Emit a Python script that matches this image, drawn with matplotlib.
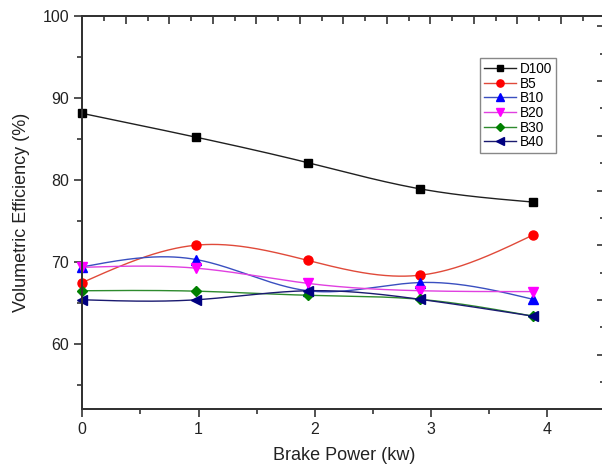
import numpy as np
import matplotlib
matplotlib.use("Agg")
import matplotlib.pyplot as plt
from matplotlib.lines import Line2D
from matplotlib.ticker import MultipleLocator

plt.rcParams['font.family'] = ['Liberation Sans', 'DejaVu Sans']

# ---- data ----
brake_power = [0, 0.98, 1.94, 2.91, 3.88]
series_names = ["D100", "B5", "B10", "B20", "B30", "B40"]
d100 = [88.1, 85.2, 82.1, 78.9, 77.3]
b5 = [67.5, 72.05, 70.2, 68.4, 73.3]
b10 = [69.4, 70.3, 66.5, 67.5, 65.45]
b20 = [69.35, 69.25, 67.4, 66.5, 66.4]
b30 = [66.5, 66.45, 65.95, 65.45, 63.4]
b40 = [65.4, 65.4, 66.5, 65.45, 63.4]

colors = ["#000000", "#ff0000", "#0000ff", "#ff00ff", "#008000", "#000080"]
line_colors = ["#202020", "#e04a3a", "#3a4fc0", "#e040e0", "#2e8b2e", "#1a1a70"]
markers = ["s", "o", "^", "v", "D", "<"]
msizes = [5.5, 6.5, 6.5, 6.5, 5, 6.5]


def smooth(x, y, n=300):
    x = np.asarray(x, float)
    y = np.asarray(y, float)
    m = len(x)
    h = np.diff(x)
    A = np.zeros((m, m))
    rhs = np.zeros(m)
    A[0, 0] = 1
    A[-1, -1] = 1
    for i in range(1, m - 1):
        A[i, i - 1] = h[i - 1]
        A[i, i] = 2 * (h[i - 1] + h[i])
        A[i, i + 1] = h[i]
        rhs[i] = 3 * ((y[i + 1] - y[i]) / h[i] - (y[i] - y[i - 1]) / h[i - 1])
    c = np.linalg.solve(A, rhs)
    xs = np.linspace(x[0], x[-1], n)
    idx = np.clip(np.searchsorted(x, xs) - 1, 0, m - 2)
    dx = xs - x[idx]
    bcoef = (y[1:] - y[:-1]) / h - h * (2 * c[:-1] + c[1:]) / 3
    dcoef = (c[1:] - c[:-1]) / (3 * h)
    ys = y[idx] + bcoef[idx] * dx + c[idx] * dx ** 2 + dcoef[idx] * dx ** 3
    return xs, ys


fig = plt.figure(figsize=(6.02, 4.71), dpi=100)
W, H = 602, 471
left_px, right_px, top_px, bot_px = 82.3, 605.2, 15.7, 409.3
ax = fig.add_axes([left_px / W, (H - bot_px) / H,
                   (right_px - left_px) / W, (bot_px - top_px) / H])

all_series = [d100, b5, b10, b20, b30, b40]
handles = []
for name, vals, col, lcol, mk, ms in zip(series_names, all_series, colors,
                                         line_colors, markers, msizes):
    xs, ys = smooth(brake_power, vals)
    ax.plot(xs, ys, color=lcol, lw=1.0, zorder=2)
    ax.plot(brake_power, vals, linestyle="none", marker=mk, ms=ms,
            color=col, mec=col, zorder=3, clip_on=False)
    handles.append(Line2D([], [], color=lcol, lw=1.0, marker=mk, ms=ms * 0.8,
                          mfc=col, mec=col, label=name))

ax.set_xlim(0, 4.5)
ax.set_ylim(52.06, 100)
ax.xaxis.set_major_locator(MultipleLocator(1))
ax.xaxis.set_minor_locator(MultipleLocator(0.5))
ax.yaxis.set_major_locator(MultipleLocator(10))
ax.yaxis.set_minor_locator(MultipleLocator(5))
ax.tick_params(which="both", direction="out", top=False, right=False,
               width=1.2, color="#333333", labelsize=11.5, labelcolor="#222222")
ax.tick_params(which="major", length=6)
ax.tick_params(which="minor", length=3.5)
for s in ax.spines.values():
    s.set_linewidth(1.2)
    s.set_color("#333333")

ax.set_xlabel("Brake Power (kw)", fontsize=13, color="#222222", labelpad=7)
ax.set_ylabel("Volumetric Efficiency (%)", fontsize=13, color="#222222",
              labelpad=9)

# mirrored top / right axes (labels fall outside the image)
axt = ax.twiny()
axt.set_xlim(0, (right_px - left_px) / 43.5)
axt.xaxis.set_major_locator(MultipleLocator(1))
axt.xaxis.set_minor_locator(MultipleLocator(0.5))
axt.tick_params(which="both", direction="in", width=1.2, color="#333333",
                labeltop=False)
axt.tick_params(which="major", length=6)
axt.tick_params(which="minor", length=3.5)

axr = ax.twinx()
axr.set_ylim(0, (bot_px - top_px) / 54.7)
axr.yaxis.set_major_locator(MultipleLocator(1))
axr.yaxis.set_minor_locator(MultipleLocator(0.5))
axr.tick_params(which="both", direction="in", width=1.2, color="#333333",
                labelright=False)
axr.tick_params(which="major", length=6)
axr.tick_params(which="minor", length=3.5)
for a in (axt, axr):
    for s in a.spines.values():
        s.set_linewidth(1.2)
        s.set_color("#333333")

leg = ax.legend(handles=handles, loc="upper left",
                bbox_to_anchor=(0.7606, 0.8925), borderaxespad=0,
                fontsize=9.8, handlelength=2.4, handletextpad=0.25,
                labelspacing=0.05, borderpad=0.28, fancybox=False,
                framealpha=1, edgecolor="#888888")
leg.get_frame().set_linewidth(1.0)
leg.set_zorder(5)

fig.savefig("out.png", dpi=100)
